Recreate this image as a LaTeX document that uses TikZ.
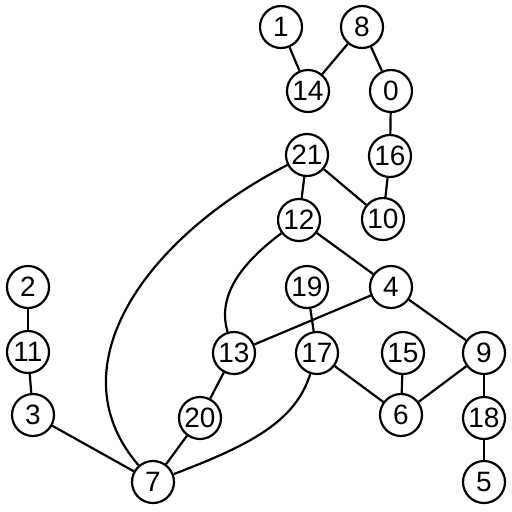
\documentclass[tikz,border=0pt]{standalone}
\usepackage{fontspec}
\setmainfont{Liberation Sans}
\begin{document}
\begin{tikzpicture}[x=1pt,y=-1pt,
  vtx/.style={circle,draw,line width=2.2pt,minimum size=42pt,inner sep=0pt,font=\fontsize{28}{28}\selectfont,fill=white},
  edge/.style={line width=2.2pt}]
\useasboundingbox (0,0) rectangle (512,512);
\node[vtx] (n1) at (281,27) {1};
\node[vtx] (n8) at (362,27) {8};
\node[vtx] (n14) at (308,91) {14};
\node[vtx] (n0) at (391,91) {0};
\node[vtx] (n21) at (307,155) {21};
\node[vtx] (n16) at (390,156) {16};
\node[vtx] (n12) at (299,220) {12};
\node[vtx] (n10) at (383,219) {10};
\node[vtx] (n2) at (28,287) {2};
\node[vtx] (n19) at (307,287) {19};
\node[vtx] (n4) at (391,287) {4};
\node[vtx] (n11) at (28,352) {11};
\node[vtx] (n13) at (234,353) {13};
\node[vtx] (n17) at (317,353) {17};
\node[vtx] (n15) at (403,353) {15};
\node[vtx] (n9) at (484,353) {9};
\node[vtx] (n3) at (33,415) {3};
\node[vtx] (n20) at (200,418) {20};
\node[vtx] (n6) at (401,415) {6};
\node[vtx] (n18) at (484,418) {18};
\node[vtx] (n7) at (153,482) {7};
\node[vtx] (n5) at (484,482) {5};
\draw[edge] (n1) -- (n14);
\draw[edge] (n14) -- (n8);
\draw[edge] (n8) -- (n0);
\draw[edge] (n0) -- (n16);
\draw[edge] (n16) -- (n10);
\draw[edge] (n21) -- (n10);
\draw[edge] (n21) -- (n12);
\draw[edge] (n21) .. controls (150,235) and (52,365) .. (n7);
\draw[edge] (n12) -- (n4);
\draw[edge] (n12) .. controls (235,268) and (218,300) .. (n13);
\draw[edge] (n4) -- (n13);
\draw[edge] (n4) -- (n9);
\draw[edge] (n19) -- (n17);
\draw[edge] (n17) -- (n6);
\draw[edge] (n17) .. controls (295,422) and (250,445) .. (n7);
\draw[edge] (n15) -- (n6);
\draw[edge] (n9) -- (n6);
\draw[edge] (n9) -- (n18);
\draw[edge] (n18) -- (n5);
\draw[edge] (n2) -- (n11);
\draw[edge] (n11) -- (n3);
\draw[edge] (n3) -- (n7);
\draw[edge] (n20) -- (n7);
\draw[edge] (n13) -- (n20);
\end{tikzpicture}
\end{document}
